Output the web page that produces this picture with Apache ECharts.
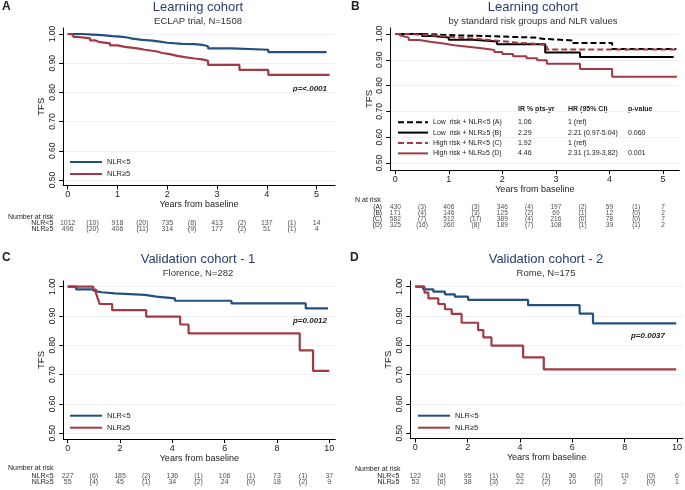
<!DOCTYPE html>
<html>
<head>
<meta charset="utf-8">
<script src="https://cdn.jsdelivr.net/npm/echarts@6/dist/echarts.min.js"></script>
<style>html,body{margin:0;padding:0;background:#fff}#c{width:685px;height:490px}</style>
</head>
<body>
<div id="c"></div>
<script>
// ---------- data ----------
const yTicks = [0.5, 0.6, 0.7, 0.8, 0.9, 1.0];
const xTicksAB = [0, 1, 2, 3, 4, 5];
const xTicksCD = [0, 2, 4, 6, 8, 10];

// Panel A (learning cohort, ECLAP)
const kmA_lo = [[0,1],[0.3,0.998],[0.5,0.996],[0.7,0.993],[0.9,0.991],[1.05,0.988],[1.2,0.984],[1.3,0.98],[1.5,0.977],[1.7,0.974],[1.85,0.97],[2.0,0.966],[2.3,0.965],[2.55,0.963],[2.7,0.958],[2.82,0.951],[3.3,0.946],[4.03,0.938],[5.2,0.938]];
const kmA_hi = [[0,1],[0.08,0.995],[0.12,0.99],[0.2,0.985],[0.45,0.978],[0.55,0.972],[0.65,0.968],[0.85,0.961],[1.0,0.956],[1.15,0.951],[1.4,0.946],[1.55,0.94],[1.8,0.935],[1.9,0.931],[2.05,0.925],[2.2,0.921],[2.35,0.916],[2.55,0.913],[2.7,0.908],[2.82,0.894],[3.45,0.877],[4.03,0.86],[5.26,0.86]];
const riskA_lo = [1012, 918, 735, 413, 137, 14];
const censA_lo = [10, 20, 8, 2, 1];
const riskA_hi = [496, 406, 314, 177, 51, 4];
const censA_hi = [20, 11, 9, 2, 1];

// Panel B (risk groups x NLR)
const kmB_A = [[0,1],[0.5,0.995],[1.1,0.99],[2.0,0.986],[2.6,0.981],[2.78,0.975],[3.3,0.965],[4.05,0.942],[5.25,0.942]];
const kmB_B = [[0,1],[0.5,0.992],[0.7,0.986],[1.0,0.978],[1.45,0.971],[1.9,0.96],[2.8,0.928],[3.45,0.911],[5.2,0.911]];
const kmB_C = [[0,1],[0.2,0.997],[0.5,0.993],[0.8,0.988],[1.1,0.983],[1.4,0.978],[1.7,0.972],[2.0,0.966],[2.3,0.962],[2.6,0.958],[2.83,0.94],[5.25,0.94]];
const kmB_D = [[0,1],[0.05,0.993],[0.12,0.986],[0.25,0.977],[0.45,0.97],[0.65,0.963],[0.9,0.956],[1.1,0.95],[1.4,0.944],[1.65,0.938],[1.85,0.93],[2.0,0.922],[2.2,0.914],[2.45,0.906],[2.65,0.898],[2.83,0.885],[3.45,0.864],[4.05,0.834],[5.26,0.834]];
const groupsB = ['Low  risk + NLR<5 (A)', 'Low  risk + NLR\u22655 (B)', 'High risk + NLR<5 (C)', 'High risk + NLR\u22655 (D)'];
const irB = ['1.06', '2.29', '1.92', '4.46'];
const hrB = ['1 (ref)', '2.21 (0.97-5.04)', '1 (ref)', '2.31 (1.39-3,82)'];
const pB = ['', '0.060', '', '0.001'];
const rowsB = ['(A)', '(B)', '(C)', '(D)'];
const riskB = [[430, 406, 346, 197, 59, 7], [171, 146, 125, 69, 12, 2], [582, 512, 389, 216, 78, 7], [325, 260, 189, 108, 39, 2]];
const censB = [[3, 3, 4, 2, 1], [4, 3, 2, 1, 0], [7, 17, 4, 0, 0], [16, 8, 7, 1, 1]];

// Panel C (Florence)
const kmC_lo = [[0,1],[0.32,0.991],[0.92,0.985],[1.04,0.981],[1.3,0.977],[1.8,0.972],[2.95,0.966],[3.4,0.96],[4.1,0.952],[6.26,0.943],[9.1,0.926],[9.95,0.926]];
const kmC_hi = [[0,1],[0.98,0.99],[1.08,0.978],[1.15,0.96],[1.22,0.941],[1.7,0.92],[3.0,0.898],[4.3,0.871],[4.62,0.841],[8.87,0.783],[9.38,0.713],[10,0.713]];
const riskC_lo = [227, 185, 136, 106, 73, 37];
const censC_lo = [6, 2, 1, 1, 1];
const riskC_hi = [55, 45, 34, 24, 18, 9];
const censC_hi = [4, 1, 2, 0, 2];

// Panel D (Rome)
const kmD_lo = [[0,1],[0.3,0.991],[0.69,0.983],[1.13,0.974],[1.51,0.966],[2.02,0.955],[4.31,0.937],[6.28,0.908],[6.79,0.875],[9.97,0.875]];
const kmD_hi = [[0,1],[0.35,0.98],[0.5,0.96],[0.88,0.941],[1.13,0.923],[1.39,0.907],[1.77,0.877],[2.4,0.852],[2.6,0.827],[2.91,0.799],[4.12,0.759],[4.91,0.718],[9.97,0.718]];
const riskD_lo = [122, 95, 62, 36, 10, 6];
const censD_lo = [4, 1, 1, 2, 0];
const riskD_hi = [53, 38, 22, 10, 2, 1];
const censD_hi = [6, 3, 2, 0, 0];

const nlrRows = ['NLR<5', 'NLR\u22655'];

// ---------- styling ----------
const FONT = '"Liberation Sans", Arial, sans-serif';
const BLUE = '#24507e';
const RED = '#a23a46';
const NAVY = '#2a3d6e';
const TXT = '#222';

const chart = echarts.init(document.getElementById('c'), null, {renderer: 'canvas'});

const grids = [];
const xAxes = [];
const yAxes = [];
const series = [];

function addPlot(g, xr, xt, yr) {
  const gi = grids.length;
  grids.push({left: g.left, top: g.top, width: g.width, height: g.height, containLabel: false});
  xAxes.push({
    gridIndex: gi, type: 'value', min: xr[0], max: xr[1],
    axisLine: {show: true, onZero: false, lineStyle: {color: '#000', width: 1}},
    axisTick: {show: true, length: 4, customValues: xt, lineStyle: {color: '#000'}},
    axisLabel: {customValues: xt, fontSize: 9, margin: 5, color: TXT, fontFamily: FONT},
    splitLine: {show: false},
    name: 'Years from baseline', nameLocation: 'middle', nameGap: g.xNameGap,
    nameTextStyle: {fontSize: 9, color: TXT, fontFamily: FONT}
  });
  yAxes.push({
    gridIndex: gi, type: 'value', min: yr[0], max: yr[1],
    axisLine: {show: true, onZero: false, lineStyle: {color: '#000', width: 1}},
    axisTick: {show: true, length: 4, customValues: yTicks, lineStyle: {color: '#000'}},
    axisLabel: {customValues: yTicks, rotate: 90, fontSize: 8.5, margin: 6, color: TXT, fontFamily: FONT,
                formatter: v => Number(v).toFixed(2)},
    splitLine: {show: true, lineStyle: {color: '#eef1f5', width: 1}},
    name: 'TFS', nameLocation: 'middle', nameGap: g.yNameGap,
    nameTextStyle: {fontSize: 9.5, color: TXT, fontFamily: FONT}
  });
  return gi;
}

function addRisk(g, xr, rows, labelMargin, fs) {
  const gi = grids.length;
  grids.push({left: g.left, top: g.top, width: g.width, height: g.height, containLabel: false});
  xAxes.push({gridIndex: gi, type: 'value', min: xr[0], max: xr[1], show: false});
  yAxes.push({
    gridIndex: gi, type: 'category', data: rows, inverse: true,
    axisLine: {show: false}, axisTick: {show: false}, splitLine: {show: false},
    axisLabel: {interval: 0, hideOverlap: false, fontSize: fs, margin: labelMargin, color: TXT, fontFamily: FONT}
  });
  return gi;
}

function kmLine(name, gi, data, color, dashed, width) {
  series.push({
    name: name, type: 'line', step: 'end', xAxisIndex: gi, yAxisIndex: gi,
    data: data, symbol: 'none', silent: true,
    lineStyle: {color: color, width: width, type: dashed ? [6, 3] : 'solid'},
    itemStyle: {color: color}
  });
}

function riskRow(gi, rowName, counts, cens, step, fs) {
  const data = [];
  counts.forEach((n, i) => data.push({value: [i * step, rowName], name: String(n)}));
  cens.forEach((c, i) => data.push({value: [(i + 0.5) * step, rowName], name: '(' + c + ')'}));
  series.push({
    type: 'scatter', xAxisIndex: gi, yAxisIndex: gi, data: data, silent: true,
    symbolSize: 1, itemStyle: {color: 'rgba(0,0,0,0)'},
    labelLayout: {hideOverlap: false},
    label: {show: true, position: 'inside', formatter: p => p.name, fontSize: fs, color: TXT, fontFamily: FONT}
  });
}

// Panel A
const xrA = [-0.094, 5.37], yrA = [0.4812, 1.0205];
const gA = addPlot({left: 63, top: 28, width: 272, height: 157.5, xNameGap: 14, yNameGap: 17}, xrA, xTicksAB, yrA);
kmLine('NLR<5', gA, kmA_lo, BLUE, false, 2.2);
kmLine('NLR\u22655', gA, kmA_hi, RED, false, 2.2);
const rA = addRisk({left: 63, top: 220.3, width: 272, height: 12}, xrA, nlrRows, 9.7, 7);
riskRow(rA, nlrRows[0], riskA_lo, censA_lo, 1, 7);
riskRow(rA, nlrRows[1], riskA_hi, censA_hi, 1, 7);

// Panel B
const xrB = [-0.0935, 5.305], yrB = [0.4729, 1.0232];
const gB = addPlot({left: 390.3, top: 28, width: 289, height: 142, xNameGap: 13, yNameGap: 16}, xrB, xTicksAB, yrB);
kmLine(groupsB[0], gB, kmB_A, '#000', true, 2);
kmLine(groupsB[1], gB, kmB_B, '#000', false, 2);
kmLine(groupsB[2], gB, kmB_C, RED, true, 2);
kmLine(groupsB[3], gB, kmB_D, RED, false, 2);
const rB = addRisk({left: 390.3, top: 204, width: 289, height: 24}, xrB, rowsB, 8.3, 6.6);
rowsB.forEach((r, i) => riskRow(rB, r, riskB[i], censB[i], 1, 6.6));

// Panel C
const xrC = [-0.168, 10.23], yrC = [0.4806, 1.0194];
const gC = addPlot({left: 63.3, top: 281, width: 272, height: 158, xNameGap: 13, yNameGap: 17}, xrC, xTicksCD, yrC);
kmLine('NLR<5', gC, kmC_lo, BLUE, false, 2.2);
kmLine('NLR\u22655', gC, kmC_hi, RED, false, 2.2);
const rC = addRisk({left: 63.3, top: 472.5, width: 272, height: 13}, xrC, nlrRows, 9.7, 7);
riskRow(rC, nlrRows[0], riskC_lo, censC_lo, 2, 7);
riskRow(rC, nlrRows[1], riskC_hi, censC_hi, 2, 7);

// Panel D
const xrD = [-0.191, 10.22], yrD = [0.4823, 1.0194];
const gD = addPlot({left: 410.3, top: 281, width: 272.5, height: 157.5, xNameGap: 13, yNameGap: 17}, xrD, xTicksCD, yrD);
kmLine('NLR<5', gD, kmD_lo, BLUE, false, 2.2);
kmLine('NLR\u22655', gD, kmD_hi, RED, false, 2.2);
const rD = addRisk({left: 410.3, top: 473, width: 272.5, height: 12.6}, xrD, nlrRows, 11, 7);
riskRow(rD, nlrRows[0], riskD_lo, censD_lo, 2, 7);
riskRow(rD, nlrRows[1], riskD_hi, censD_hi, 2, 7);

// ---------- titles ----------
function ttl(text, sub, x, y) {
  return {text: text, subtext: sub, left: x, top: y, textAlign: 'center', padding: 0, itemGap: 2.5,
          textStyle: {fontSize: 13, fontWeight: 'normal', color: NAVY, fontFamily: FONT},
          subtextStyle: {fontSize: 9.5, color: '#333', fontFamily: FONT}};
}
const titles = [
  ttl('Learning cohort', 'ECLAP trial, N=1508', 198, 0.5),
  ttl('Learning cohort', 'by standard risk groups and NLR values', 533, 0.5),
  ttl('Validation cohort - 1', 'Florence, N=282', 198, 253),
  ttl('Validation cohort - 2', 'Rome, N=175', 546, 253)
];

// ---------- legends ----------
const legBase = {orient: 'vertical', itemWidth: 32, itemHeight: 8, itemGap: 4, padding: 0, selectedMode: false,
                 itemStyle: {opacity: 0, borderWidth: 0},
                 textStyle: {fontSize: 7.5, color: TXT, fontFamily: FONT}};
const legends = [
  Object.assign({}, legBase, {data: ['NLR<5', 'NLR\u22655'], left: 69, top: 158}),
  Object.assign({}, legBase, {data: ['NLR<5', 'NLR\u22655'], left: 69, top: 411.7}),
  Object.assign({}, legBase, {data: ['NLR<5', 'NLR\u22655'], left: 417, top: 411.7}),
  Object.assign({}, legBase, {
    data: groupsB, left: 397, top: 118.7, itemWidth: 30, itemGap: 3.4,
    formatter: name => {
      const i = groupsB.indexOf(name);
      return '{n|' + name + '}{i|' + irB[i] + '}{h|' + hrB[i] + '}{p|' + pB[i] + '}';
    },
    textStyle: {fontSize: 7, color: TXT, fontFamily: FONT,
      rich: {n: {width: 85, fontSize: 7, fontFamily: FONT, color: TXT},
             i: {width: 50, fontSize: 7, fontFamily: FONT, color: TXT},
             h: {width: 60, fontSize: 7, fontFamily: FONT, color: TXT},
             p: {width: 30, fontSize: 7, fontFamily: FONT, color: TXT}}}
  })
];

// ---------- free text ----------
function txt(t, x, y, size, opts) {
  return Object.assign({type: 'text', x: x, y: y, silent: true,
    style: {text: t, fontSize: size, fontFamily: FONT, fill: TXT, align: 'left', verticalAlign: 'middle'}}, opts || {});
}
function bold(t, x, y, size, align, italic) {
  return {type: 'text', x: x, y: y, silent: true,
    style: {text: t, font: (italic ? 'italic ' : '') + 'bold ' + size + 'px ' + FONT, fill: TXT, align: align || 'left', verticalAlign: 'middle'}};
}
const graphics = [
  bold('A', 2, 7, 12), bold('B', 351, 7, 12), bold('C', 2, 258, 12), bold('D', 350, 258, 12),
  txt('Number at risk', 8, 217.3, 7), txt('N at risk', 355, 200, 7),
  txt('Number at risk', 8, 468, 7), txt('Number at risk', 355, 469, 7),
  bold('p=<.0001', 327, 88.3, 8, 'right', true),
  bold('p=0.0012', 327, 321, 8, 'right', true),
  bold('p=0.0037', 665, 335.7, 8, 'right', true),
  bold('IR % pts-yr', 518, 109.3, 7), bold('HR (95% CI)', 568, 109.3, 7), bold('p-value', 628, 109.3, 7)
];

chart.setOption({
  animation: false,
  backgroundColor: '#fff',
  textStyle: {fontFamily: FONT},
  title: titles,
  legend: legends,
  grid: grids,
  xAxis: xAxes,
  yAxis: yAxes,
  series: series,
  graphic: graphics
});
</script>
</body>
</html>
